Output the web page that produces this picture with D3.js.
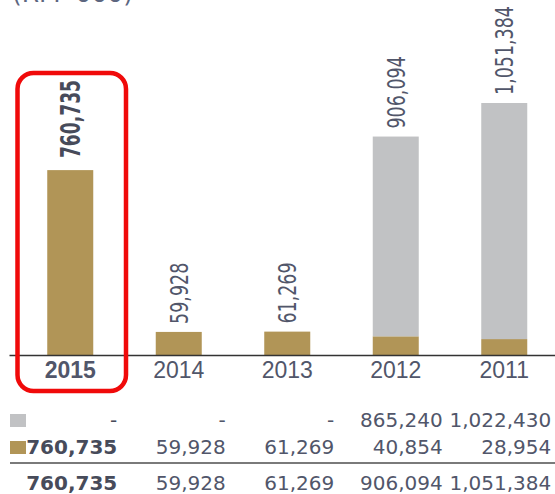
<!DOCTYPE html>
<html>
<head>
<meta charset="utf-8">
<script src="https://cdn.jsdelivr.net/npm/d3@7"></script>
<style>
  body { margin: 0; background: #fff; }
  svg { display: block; font-family: "DejaVu Sans", sans-serif; }
  .axis path { stroke: #333; stroke-width: 1.5; }
  .axis text { fill: #51566a; font-size: 23px; }
</style>
</head>
<body>
<svg id="chart" width="555" height="494"></svg>
<script>
'use strict';

// valores (RM '000)
var years = ['2015', '2014', '2013', '2012', '2011'];
var grayValues = [0, 0, 0, 865240, 1022430];
var goldValues = [760735, 59928, 61269, 40854, 28954];
var unitLabel = "(RM '000)";
var highlightYear = '2015';

var goldColor = '#b19557';
var grayColor = '#c1c2c4';
var textColor = '#51566a';
var boldColor = '#474b5a';

var svg = d3.select('#chart');
var fmt = d3.format(',');

var rows = years.map(function (y, i) {
    return { year: y, gold: goldValues[i], gray: grayValues[i] };
});
var totals = rows.map(function (d) { return d.gold + d.gray; });

// escalas
var x = d3.scaleBand().domain(years).range([9, 565.5])
    .paddingInner(0.576).paddingOuter(0.3525);
var y = d3.scaleLinear().domain([-40000, d3.max(totals)]).range([355, 103]);

// titulo cortado arriba
svg.append('text').attr('x', 12).attr('y', 2)
    .attr('font-size', 25).attr('fill', '#5d6680')
    .text(unitLabel);

// barras apiladas
var stack = d3.stack().keys(['gold', 'gray']);
var series = stack(rows);
var colors = { gold: goldColor, gray: grayColor };

svg.append('g').selectAll('g').data(series).join('g')
    .attr('fill', function (s) { return colors[s.key]; })
    .selectAll('rect').data(function (s) { return s; }).join('rect')
    .attr('x', function (d) { return x(d.data.year); })
    .attr('width', x.bandwidth())
    .attr('y', function (d) { return y(d[1]); })
    .attr('height', function (d) {
        var bottom = d[0] === 0 ? y.range()[0] : y(d[0]);
        return Math.max(0, bottom - y(d[1]));
    });

// etiquetas verticales
svg.append('g').selectAll('text').data(rows).join('text')
    .attr('transform', function (d, i) {
        var hl = d.year === highlightYear;
        var cx = x(d.year) + x.bandwidth() / 2;
        var ty = y(totals[i]) - (hl ? 12 : 8);
        return 'translate(' + cx + ',' + ty + ') rotate(-90) scale(' + (hl ? 0.66 : 0.7) + ',1)';
    })
    .attr('dy', '0.36em')
    .attr('font-size', function (d) { return d.year === highlightYear ? 26 : 25; })
    .attr('font-weight', function (d) { return d.year === highlightYear ? 'bold' : 'normal'; })
    .attr('fill', function (d) { return d.year === highlightYear ? boldColor : textColor; })
    .text(function (d, i) { return fmt(totals[i]); });

// eje x
var gx = svg.append('g').attr('class', 'axis').attr('transform', 'translate(0,355)')
    .call(d3.axisBottom(x).tickSize(0).tickPadding(0));
gx.selectAll('text').attr('dy', null).attr('y', 23)
    .attr('font-weight', function (d) { return d === highlightYear ? 'bold' : 'normal'; })
    .attr('fill', function (d) { return d === highlightYear ? boldColor : textColor; });

// recuadro rojo
svg.append('rect')
    .attr('x', 17.5).attr('y', 73).attr('width', 108.5).attr('height', 318)
    .attr('rx', 16).attr('fill', 'none')
    .attr('stroke', '#f00a0a').attr('stroke-width', 4.5);

// tabla
var colX = function (yr) { return x(yr) + x.bandwidth() / 2 + 47; };
var tableRows = [
    { vals: grayValues, base: 427, color: grayColor },
    { vals: goldValues, base: 454, color: goldColor },
    { vals: totals, base: 490, color: null }
];

var table = svg.append('g').attr('font-size', 20);
tableRows.forEach(function (r) {
    if (r.color) {
        table.append('rect').attr('x', 10).attr('y', r.base - 13)
            .attr('width', 16).attr('height', 13).attr('fill', r.color);
    }
    table.append('g').selectAll('text').data(years).join('text')
        .attr('x', function (yr) { return colX(yr); })
        .attr('y', r.base)
        .attr('text-anchor', 'end')
        .attr('font-weight', function (yr) { return yr === highlightYear && r.vals !== grayValues ? 'bold' : 'normal'; })
        .attr('fill', function (yr) { return yr === highlightYear ? boldColor : textColor; })
        .text(function (yr, i) { return r.vals[i] ? fmt(r.vals[i]) : '-'; });
});

table.append('line').attr('x1', 10).attr('x2', 555)
    .attr('y1', 463).attr('y2', 463)
    .attr('stroke', '#7a7a7a').attr('stroke-width', 2);
</script>
</body>
</html>
